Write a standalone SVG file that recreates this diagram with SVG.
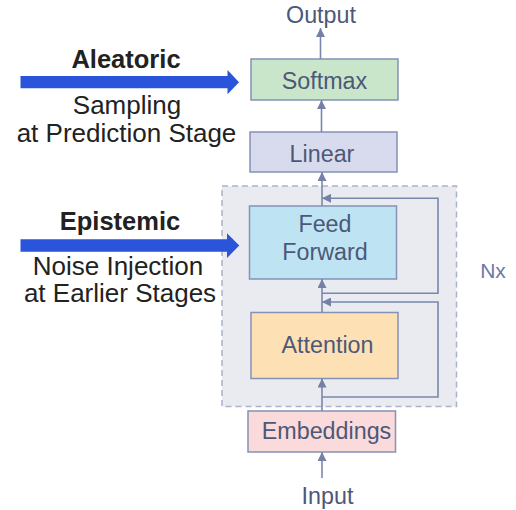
<svg xmlns="http://www.w3.org/2000/svg" width="516" height="510" viewBox="0 0 516 510">
<defs>
<marker id="ah" viewBox="0 0 10 10" refX="10" refY="5" markerWidth="9" markerHeight="9" markerUnits="userSpaceOnUse" orient="auto">
<path d="M0,0 L10,5 L0,10 Z" fill="#7480a6"/>
</marker>
<style>
.box{stroke:#8591b5;stroke-width:1.5}
.bt{font-family:"Liberation Sans",Arial,sans-serif;font-size:23.3px;fill:#4d5878;text-anchor:middle}
.lt{font-family:"Liberation Sans",Arial,sans-serif;font-size:26px;fill:#222;text-anchor:middle}
.lb{font-weight:bold;font-size:25.5px}
.con{fill:none;stroke:#7a87ad;stroke-width:1.6}
.blue{fill:#2a55da}
</style>
</defs>
<rect width="516" height="510" fill="#fff"/>
<g id="container">
<rect x="222" y="186" width="234.5" height="220.5" fill="#e9ebf1" stroke="#aab3c9" stroke-width="1.5" stroke-dasharray="6 4"/>
<text x="493" y="278" style="font-family:'Liberation Sans',Arial,sans-serif;font-size:21px;fill:#6b79a6;text-anchor:middle">Nx</text>
</g>
<g id="softmax">
<rect class="box" x="251" y="59" width="147" height="41" fill="#c9e6cb"/>
<text class="bt" x="324.5" y="88.5">Softmax</text>
</g>
<g id="linear">
<rect class="box" x="250" y="132" width="147" height="40" fill="#d8dbee"/>
<text class="bt" x="322" y="161.5">Linear</text>
</g>
<g id="feedforward">
<rect class="box" x="249.5" y="206" width="147" height="73" fill="#bee4f3"/>
<text class="bt" x="325" y="231.5">Feed</text>
<text class="bt" x="325" y="260">Forward</text>
</g>
<g id="attention">
<rect class="box" x="251" y="312.5" width="147" height="66" fill="#fde1b5"/>
<text class="bt" x="327.5" y="352.5">Attention</text>
</g>
<g id="embeddings">
<rect class="box" x="248" y="411" width="147.5" height="41" fill="#fadada"/>
<text class="bt" x="326.5" y="438.5">Embeddings</text>
</g>
<g id="output"><text class="bt" x="321" y="22.5">Output</text></g>
<g id="input"><text class="bt" x="327.5" y="503.5">Input</text></g>
<g id="aleatoric">
<path class="blue" d="M20.5,76 H227.5 V70 L239,82.2 L227.5,94.3 V88.3 H20.5 Z"/>
<text class="lt lb" x="126" y="68">Aleatoric</text>
<text class="lt" x="127" y="114">Sampling</text>
<text class="lt" x="126.5" y="142">at Prediction Stage</text>
</g>
<g id="epistemic">
<path class="blue" d="M20.5,239.3 H227 V233.3 L239.3,245.6 L227,258 V251.7 H20.5 Z"/>
<text class="lt lb" x="120" y="230">Epistemic</text>
<text class="lt" x="118" y="275">Noise Injection</text>
<text class="lt" x="120" y="302">at Earlier Stages</text>
</g>
<g id="connectors">
<line class="con" x1="322" y1="478" x2="322" y2="452" marker-end="url(#ah)"/>
<line class="con" x1="322" y1="411" x2="322" y2="378.5" marker-end="url(#ah)"/>
<line class="con" x1="322" y1="312.5" x2="322" y2="279" marker-end="url(#ah)"/>
<line class="con" x1="322" y1="206" x2="322" y2="172" marker-end="url(#ah)"/>
<line class="con" x1="321.5" y1="132" x2="321.5" y2="100" marker-end="url(#ah)"/>
<line class="con" x1="320.5" y1="59" x2="320.5" y2="28" marker-end="url(#ah)"/>
<path class="con" d="M322,397 H438 V302 H322" marker-end="url(#ah)"/>
<path class="con" d="M322,293.3 H438 V198.3 H322" marker-end="url(#ah)"/>
</g>
</svg>
